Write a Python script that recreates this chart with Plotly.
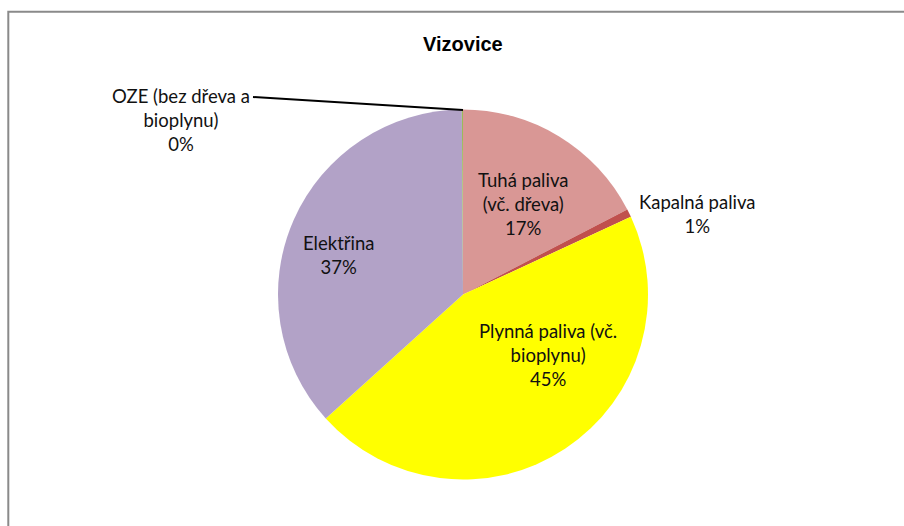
import plotly.graph_objects as go

W, H = 904, 526

labels = ["Tuhá paliva (vč. dřeva)", "Kapalná paliva", "Plynná paliva (vč. bioplynu)",
          "Elektřina", "OZE (bez dřeva a bioplynu)"]
label_lines = ["Tuhá paliva<br>(vč. dřeva)", "Kapalná paliva", "Plynná paliva (vč.<br>bioplynu)",
               "Elektřina", "OZE (bez dřeva a<br>bioplynu)"]
values = [17.4, 0.7, 45.2, 36.6, 0.1]
colors = ["#D99795", "#C0504D", "#FFFF00", "#B2A2C7", "#9BBB59"]
title = "Vizovice"

# label centres in pixels (x, y of text block centre)
label_pos = [(523, 204), (697, 214), (548, 355), (338, 255), (181, 120)]


def px(x):
    return x / W


def py(y):
    return 1 - y / H


cx, cy, r = 463, 294.5, 185

fig = go.Figure(go.Pie(
    labels=labels,
    values=values,
    sort=False,
    direction="clockwise",
    rotation=0,
    marker=dict(colors=colors, line=dict(width=0)),
    textinfo="none",
    hoverinfo="label+percent",
    showlegend=False,
    domain=dict(x=[px(cx - r), px(cx + r)], y=[py(cy + r), py(cy - r)]),
))

total = sum(values)
annotations = []
for lab, v, (x, y) in zip(label_lines, values, label_pos):
    pct = round(v / total * 100)
    annotations.append(dict(
        x=px(x), y=py(y), xref="paper", yref="paper",
        text=f"{lab}<br>{pct}%", showarrow=False, align="center",
        font=dict(family="Lato, Carlito, Calibri, sans-serif", size=18.5, color="#111111"),
        xanchor="center", yanchor="middle",
    ))

annotations.append(dict(
    x=px(463), y=py(44), xref="paper", yref="paper", text=f"<b>{title}</b>",
    showarrow=False, xanchor="center", yanchor="middle",
    font=dict(family="Liberation Sans, Arial, sans-serif", size=20, color="#000000"),
))

shapes = [
    dict(type="rect", xref="paper", yref="paper", x0=px(8.3), x1=px(W + 10), y0=py(H + 10), y1=py(11.8),
         line=dict(color="#8A8A8A", width=2), fillcolor="rgba(0,0,0,0)", layer="below"),
    dict(type="line", xref="paper", yref="paper", x0=px(253), y0=py(97), x1=px(463), y1=py(110),
         line=dict(color="#000000", width=2)),
]

fig.update_layout(
    width=W, height=H,
    margin=dict(l=0, r=0, t=0, b=0),
    paper_bgcolor="#FFFFFF",
    plot_bgcolor="#FFFFFF",
    annotations=annotations,
    shapes=shapes,
)

fig.write_html("out.html",
               config={"displayModeBar": False},
               post_script="document.body.style.margin='0';document.body.style.overflow='hidden';")
